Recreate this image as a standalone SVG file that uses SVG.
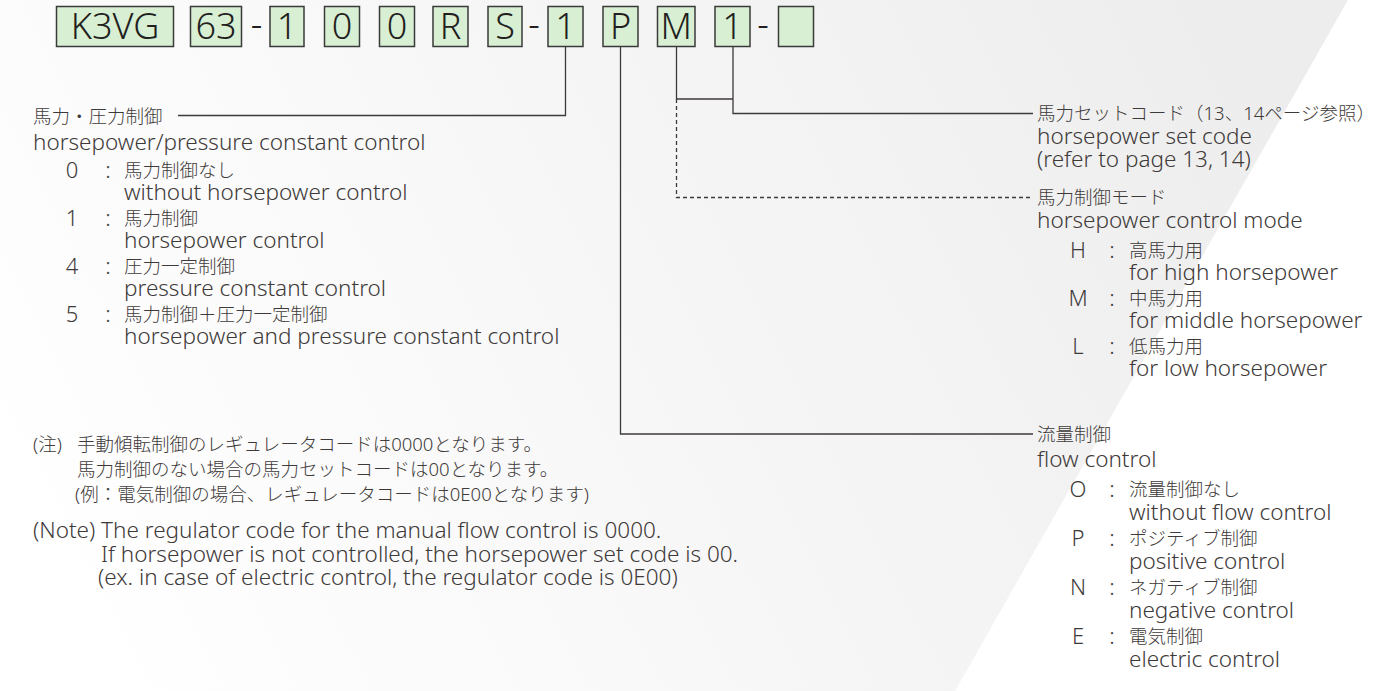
<svg xmlns="http://www.w3.org/2000/svg" width="1397" height="691" viewBox="0 0 1397 691">
<defs>
<linearGradient id="bg" gradientUnits="userSpaceOnUse" x1="80" y1="640" x2="1260" y2="40">
<stop offset="0" stop-color="#ffffff"/>
<stop offset="0.45" stop-color="#f7f7f7"/>
<stop offset="1" stop-color="#ededed"/>
</linearGradient>
</defs>
<style>
text{font-family:"Noto Sans","Noto Sans CJK JP",sans-serif;fill:#3e3a39;font-weight:300}
.code{font-size:36px;fill:#231f20;text-anchor:middle}
.box{fill:#d8efd3;stroke:#3a3a3a;stroke-width:1.5}
.jp{font-size:18.5px}
.en{font-size:22.5px}
.num{font-size:22px;text-anchor:middle}
.ln{fill:none;stroke:#3e3a39;stroke-width:1.3}
.dash{stroke-dasharray:4 3}
</style>
<rect width="1397" height="691" fill="#ffffff"/>
<polygon points="0,0 1348,0 955,691 0,691" fill="url(#bg)"/>

<g id="code">
<rect class="box" x="56.5" y="6.5" width="117" height="40"/><text class="code" x="115" y="39">K3VG</text>
<rect class="box" x="190.5" y="6.5" width="51" height="40"/><text class="code" x="216" y="39">63</text>
<text class="code" x="256.5" y="37">-</text>
<rect class="box" x="270" y="6.5" width="34" height="40"/><text class="code" x="287" y="39">1</text>
<rect class="box" x="324.5" y="6.5" width="35" height="40"/><text class="code" x="342" y="39">0</text>
<rect class="box" x="379.5" y="6.5" width="35" height="40"/><text class="code" x="397" y="39">0</text>
<rect class="box" x="433" y="6.5" width="35" height="40"/><text class="code" x="450.5" y="39">R</text>
<rect class="box" x="488" y="6.5" width="34" height="40"/><text class="code" x="505" y="39">S</text>
<text class="code" x="534" y="37">-</text>
<rect class="box" x="548" y="6.5" width="35" height="40"/><text class="code" x="565.5" y="39">1</text>
<rect class="box" x="603" y="6.5" width="35" height="40"/><text class="code" x="620.5" y="39">P</text>
<rect class="box" x="657.5" y="6.5" width="37.5" height="40"/><text class="code" x="676.2" y="39">M</text>
<rect class="box" x="715" y="6.5" width="35" height="40"/><text class="code" x="732.5" y="39">1</text>
<text class="code" x="763" y="37">-</text>
<rect class="box" x="778.5" y="6.5" width="35" height="40"/>
</g>

<g id="connectors">
<polyline class="ln" points="178,115.5 565.5,115.5 565.5,46.5"/>
<polyline class="ln" points="620.5,46.5 620.5,434 1033,434"/>
<polyline class="ln" points="676.5,46.5 676.5,99 733,99"/>
<polyline class="ln" points="733,46.5 733,113.5 1033,113.5"/>
<polyline class="ln dash" points="676.5,99 676.5,197.5 1033,197.5"/>
</g>

<g id="hp-pressure">
<text class="jp" x="33" y="122.5">馬力・圧力制御</text>
<text class="en" x="33" y="150">horsepower/pressure constant control</text>
<text class="num" x="72" y="178">0</text><text class="en" x="108" y="178" text-anchor="middle">:</text>
<text class="jp" x="124" y="177">馬力制御なし</text>
<text class="en" x="124" y="200">without horsepower control</text>
<text class="num" x="72" y="226">1</text><text class="en" x="108" y="226" text-anchor="middle">:</text>
<text class="jp" x="124" y="225">馬力制御</text>
<text class="en" x="124" y="248">horsepower control</text>
<text class="num" x="72" y="274">4</text><text class="en" x="108" y="274" text-anchor="middle">:</text>
<text class="jp" x="124" y="273">圧力一定制御</text>
<text class="en" x="124" y="296">pressure constant control</text>
<text class="num" x="72" y="322">5</text><text class="en" x="108" y="322" text-anchor="middle">:</text>
<text class="jp" x="124" y="321">馬力制御＋圧力一定制御</text>
<text class="en" x="124" y="344">horsepower and pressure constant control</text>
</g>

<g id="hp-set-code">
<text class="jp" x="1037" y="120">馬力セットコード（13、14ページ参照）</text>
<text class="en" x="1037" y="144">horsepower set code</text>
<text class="en" x="1037" y="167">(refer to page 13, 14)</text>
</g>

<g id="hp-mode">
<text class="jp" x="1037" y="204">馬力制御モード</text>
<text class="en" x="1037" y="228">horsepower control mode</text>
<text class="num" x="1078" y="258">H</text><text class="en" x="1112" y="258" text-anchor="middle">:</text>
<text class="jp" x="1129" y="257">高馬力用</text>
<text class="en" x="1129" y="280">for high horsepower</text>
<text class="num" x="1078" y="306">M</text><text class="en" x="1112" y="306" text-anchor="middle">:</text>
<text class="jp" x="1129" y="305">中馬力用</text>
<text class="en" x="1129" y="328">for middle horsepower</text>
<text class="num" x="1078" y="354">L</text><text class="en" x="1112" y="354" text-anchor="middle">:</text>
<text class="jp" x="1129" y="353">低馬力用</text>
<text class="en" x="1129" y="376">for low horsepower</text>
</g>

<g id="flow-control">
<text class="jp" x="1037" y="441">流量制御</text>
<text class="en" x="1037" y="467">flow control</text>
<text class="num" x="1078" y="497">O</text><text class="en" x="1112" y="497" text-anchor="middle">:</text>
<text class="jp" x="1129" y="496">流量制御なし</text>
<text class="en" x="1129" y="520">without flow control</text>
<text class="num" x="1078" y="546">P</text><text class="en" x="1112" y="546" text-anchor="middle">:</text>
<text class="jp" x="1129" y="545">ポジティブ制御</text>
<text class="en" x="1129" y="569">positive control</text>
<text class="num" x="1078" y="595">N</text><text class="en" x="1112" y="595" text-anchor="middle">:</text>
<text class="jp" x="1129" y="594">ネガティブ制御</text>
<text class="en" x="1129" y="618">negative control</text>
<text class="num" x="1078" y="644">E</text><text class="en" x="1112" y="644" text-anchor="middle">:</text>
<text class="jp" x="1129" y="643">電気制御</text>
<text class="en" x="1129" y="667">electric control</text>
</g>

<g id="notes">
<text class="jp" x="33" y="451">(注)</text>
<text class="jp" x="77" y="451">手動傾転制御のレギュレータコードは0000となります。</text>
<text class="jp" x="77" y="476">馬力制御のない場合の馬力セットコードは00となります。</text>
<text class="jp" x="75" y="501">(例：電気制御の場合、レギュレータコードは0E00となります)</text>
<text class="en" x="33" y="538">(Note) The regulator code for the manual flow control is 0000.</text>
<text class="en" x="101" y="562">If horsepower is not controlled, the horsepower set code is 00.</text>
<text class="en" x="98" y="585">(ex. in case of electric control, the regulator code is 0E00)</text>
</g>
</svg>
